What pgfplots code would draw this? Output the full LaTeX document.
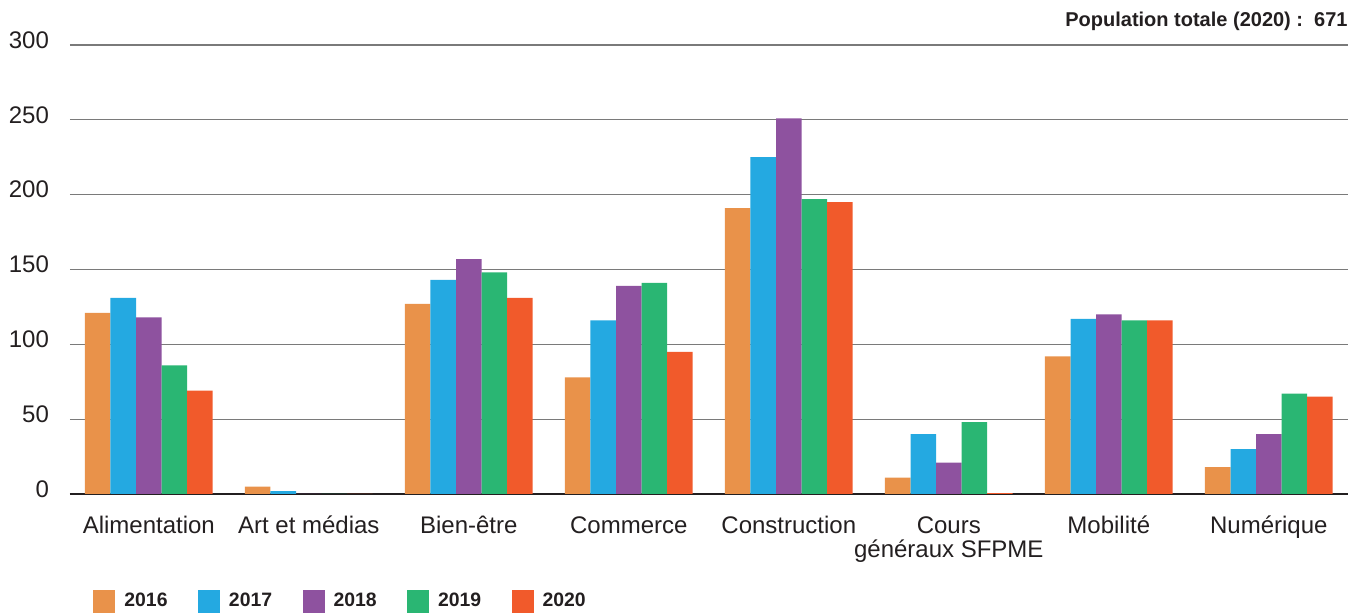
\documentclass[border=0pt]{standalone}
\usepackage{fontspec}
\setmainfont{Liberation Sans}
\usepackage{pgfplots}
\pgfplotsset{compat=1.18}
\definecolor{c16}{HTML}{E9924A}
\definecolor{c17}{HTML}{24A9E1}
\definecolor{c18}{HTML}{8E529F}
\definecolor{c19}{HTML}{2AB673}
\definecolor{c20}{HTML}{F15A2B}
\definecolor{txt}{HTML}{231F20}
\definecolor{gridc}{HTML}{7A7A7A}
\newcommand{\hs}{\rule{0pt}{10pt}}
\begin{document}
\begin{tikzpicture}
\path[use as bounding box] (-35pt,-60pt) rectangle (645.5pt,247pt);
\begin{axis}[
  at={(0pt,0pt)}, anchor=south west,
  scale only axis, width=639pt, height=224.5pt,
  ybar=0pt, bar width=12.77pt,
  xmin=-0.4925, xmax=7.495,
  ymin=0, ymax=300,
  ytick={0,50,...,300},
  xtick={0,...,7},
  xticklabels={\hs Alimentation,\hs Art et médias,\hs Bien-être,\hs Commerce,\hs Construction,{\hs Cours\\généraux SFPME},\hs Mobilité,\hs Numérique},
  axis x line*=bottom, axis y line*=left,
  x axis line style={color=txt, line width=0.6pt, -},
  y axis line style={draw=none},
  major tick length=0pt,
  ymajorgrids, grid style={color=gridc, line width=0.65pt},
  tick label style={font=\fontsize{12}{12}\selectfont, text=txt},
  yticklabel style={anchor=east, xshift=-7pt, yshift=2.5pt},
  xticklabel style={align=center, anchor=north, yshift=-6.3pt, font=\fontsize{12}{12}\selectfont},
  /pgf/number format/assume math mode=true,
  legend columns=5,
  legend style={at={(0.018,-0.2394)}, anchor=west, draw=none, fill=none,
    inner sep=0pt, nodes={inner sep=0pt, font=\bfseries\fontsize{9.7}{10}\selectfont, text=txt},
    /tikz/every even column/.append style={column sep=15.2pt},
    /tikz/every odd column/.append style={column sep=4.5pt}},
  legend image code/.code={\fill[#1] (0pt,-5.6pt) rectangle (11pt,5.6pt);},
]
\addplot[fill=c16, draw=none] coordinates {(0,121) (1,5) (2,127) (3,78) (4,191) (5,11) (6,92) (7,18)};
\addplot[fill=c17, draw=none] coordinates {(0,131) (1,2) (2,143) (3,116) (4,225) (5,40) (6,117) (7,30)};
\addplot[fill=c18, draw=none] coordinates {(0,118) (1,0) (2,157) (3,139) (4,251) (5,21) (6,120) (7,40)};
\addplot[fill=c19, draw=none] coordinates {(0,86) (1,0) (2,148) (3,141) (4,197) (5,48) (6,116) (7,67)};
\addplot[fill=c20, draw=none] coordinates {(0,69) (1,0) (2,131) (3,95) (4,195) (5,0.5) (6,116) (7,65)};
\legend{2016,2017,2018,2019,2020}
\end{axis}
\node[anchor=base east, inner sep=0pt, text=txt, font=\bfseries\fontsize{10}{10}\selectfont] at (639pt,233.6pt) {Population totale (2020) :\ \ 671};
\end{tikzpicture}
\end{document}
